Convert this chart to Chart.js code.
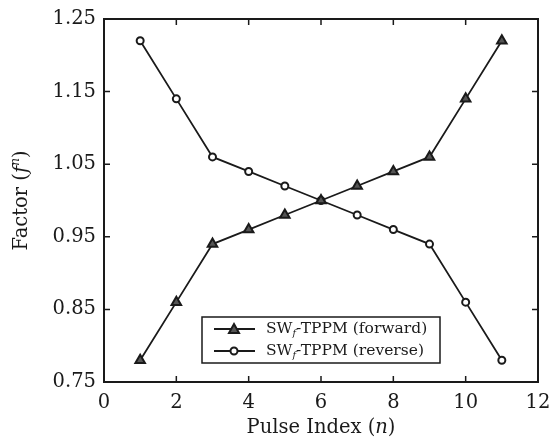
<!DOCTYPE html>
<html>
<head>
<meta charset="utf-8">
<script src="https://cdn.jsdelivr.net/npm/chart.js@4.4.1/dist/chart.umd.min.js"></script>
<style>
  html, body { margin: 0; padding: 0; background: #fff; }
  #wrap { width: 555px; height: 443px; }
</style>
</head>
<body>
<div id="wrap"><canvas id="factorChart" width="555" height="443"></canvas></div>
<script>
// Pulse index and factor values for both sweep directions
const pulseIndex = [1, 2, 3, 4, 5, 6, 7, 8, 9, 10, 11];
const forwardFactor = [0.78, 0.86, 0.94, 0.96, 0.98, 1.00, 1.02, 1.04, 1.06, 1.14, 1.22];
const reverseFactor = [1.22, 1.14, 1.06, 1.04, 1.02, 1.00, 0.98, 0.96, 0.94, 0.86, 0.78];
const xTicks = [0, 2, 4, 6, 8, 10, 12];
const yTicks = [0.75, 0.85, 0.95, 1.05, 1.15, 1.25];

const FONT = '"DejaVu Serif", "Liberation Serif", serif';
const INK = '#1a1a1a';

// Draws a run of text pieces with italic / sub / superscript parts
function drawRich(ctx, parts, x, y, size, align) {
    const fontFor = p => {
        const s = p.sub || p.sup ? size * 0.62 : size;
        return (p.italic ? 'italic ' : '') + s + 'px ' + FONT;
    };
    const total = parts.reduce((w, p) => {
        ctx.font = fontFor(p);
        return w + ctx.measureText(p.text).width;
    }, 0);
    let cx = align === 'center' ? x - total / 2 : x;
    ctx.textAlign = 'left';
    ctx.textBaseline = 'middle';
    parts.forEach(p => {
        ctx.font = fontFor(p);
        let dy = 0;
        if (p.sub) dy = size * 0.3;
        if (p.sup) dy = -size * 0.32;
        ctx.fillText(p.text, cx, y + dy);
        cx += ctx.measureText(p.text).width;
    });
}

// Frame, inward ticks, axis titles and legend
const framePlugin = {
    id: 'frame',
    afterDraw(chart) {
        const { ctx, chartArea: a, scales } = chart;
        ctx.save();
        ctx.strokeStyle = INK;
        ctx.lineWidth = 2;
        ctx.strokeRect(a.left, a.top, a.right - a.left, a.bottom - a.top);

        ctx.lineWidth = 1.5;
        const tl = 6;
        xTicks.forEach(v => {
            const px = scales.x.getPixelForValue(v);
            ctx.beginPath();
            ctx.moveTo(px, a.bottom); ctx.lineTo(px, a.bottom - tl);
            ctx.moveTo(px, a.top); ctx.lineTo(px, a.top + tl);
            ctx.stroke();
        });
        yTicks.forEach(v => {
            const py = scales.y.getPixelForValue(v);
            ctx.beginPath();
            ctx.moveTo(a.left, py); ctx.lineTo(a.left + tl, py);
            ctx.moveTo(a.right, py); ctx.lineTo(a.right - tl, py);
            ctx.stroke();
        });

        ctx.fillStyle = INK;
        // x title
        drawRich(ctx, [
            { text: 'Pulse Index (' },
            { text: 'n', italic: true },
            { text: ')' }
        ], (a.left + a.right) / 2, 428, 19.5, 'center');

        // y title, rotated
        ctx.save();
        ctx.translate(22, (a.top + a.bottom) / 2);
        ctx.rotate(-Math.PI / 2);
        drawRich(ctx, [
            { text: 'Factor (' },
            { text: 'f', italic: true },
            { text: 'n', italic: true, sup: true },
            { text: ')' }
        ], 0, 0, 19.5, 'center');
        ctx.restore();

        // legend box
        const lx = 202, top = 317, lw = 238, lh = 46;
        ctx.fillStyle = '#fff';
        ctx.fillRect(lx, top, lw, lh);
        ctx.lineWidth = 1.5;
        ctx.strokeRect(lx, top, lw, lh);
        const rows = [
            { label: '(forward)', style: 'triangle', y: top + 12 },
            { label: '(reverse)', style: 'circle', y: top + 34 }
        ];
        rows.forEach(r => {
            ctx.strokeStyle = INK;
            ctx.lineWidth = 2;
            ctx.beginPath();
            ctx.moveTo(lx + 12, r.y); ctx.lineTo(lx + 53, r.y);
            ctx.stroke();
            const mx = lx + 32;
            ctx.beginPath();
            if (r.style === 'triangle') {
                ctx.moveTo(mx, r.y - 5); ctx.lineTo(mx + 5, r.y + 4); ctx.lineTo(mx - 5, r.y + 4);
                ctx.closePath();
                ctx.fillStyle = '#555';
                ctx.fill();
            } else {
                ctx.arc(mx, r.y, 3.5, 0, Math.PI * 2);
                ctx.fillStyle = '#fff';
                ctx.fill();
            }
            ctx.stroke();
            ctx.fillStyle = INK;
            drawRich(ctx, [
                { text: 'SW' },
                { text: 'f', italic: true, sub: true },
                { text: '-TPPM ' + r.label }
            ], lx + 64, r.y, 15.5, 'left');
        });
        ctx.restore();
    }
};

const ctx = document.getElementById('factorChart').getContext('2d');
new Chart(ctx, {
    type: 'line',
    data: {
        datasets: [
            {
                label: 'SWf-TPPM (forward)',
                data: pulseIndex.map((x, i) => ({ x, y: forwardFactor[i] })),
                borderColor: INK,
                borderWidth: 1.8,
                pointStyle: 'triangle',
                pointRadius: 5.5,
                pointBorderWidth: 2,
                pointBorderColor: INK,
                pointBackgroundColor: '#555',
                tension: 0
            },
            {
                label: 'SWf-TPPM (reverse)',
                data: pulseIndex.map((x, i) => ({ x, y: reverseFactor[i] })),
                borderColor: INK,
                borderWidth: 1.8,
                pointStyle: 'circle',
                pointRadius: 3.5,
                pointBorderWidth: 2,
                pointBorderColor: INK,
                pointBackgroundColor: '#fff',
                tension: 0
            }
        ]
    },
    options: {
        responsive: false,
        animation: false,
        devicePixelRatio: 1,
        layout: { padding: { left: 0, top: 19, right: 17, bottom: 0 } },
        plugins: { legend: { display: false }, tooltip: { enabled: false } },
        scales: {
            x: {
                type: 'linear',
                min: 0, max: 12,
                afterBuildTicks: s => { s.ticks = xTicks.map(v => ({ value: v })); },
                afterFit: s => { s.height = 61; },
                grid: { display: false },
                border: { display: false },
                ticks: {
                    color: INK,
                    font: { family: FONT, size: 19.5 },
                    padding: 1
                }
            },
            y: {
                min: 0.75, max: 1.25,
                afterBuildTicks: s => { s.ticks = yTicks.map(v => ({ value: v })); },
                afterFit: s => { s.width = 104; },
                grid: { display: false },
                border: { display: false },
                ticks: {
                    color: INK,
                    font: { family: FONT, size: 19.5 },
                    padding: 0,
                    callback: v => v.toFixed(2)
                }
            }
        }
    },
    plugins: [framePlugin]
});
</script>
</body>
</html>
